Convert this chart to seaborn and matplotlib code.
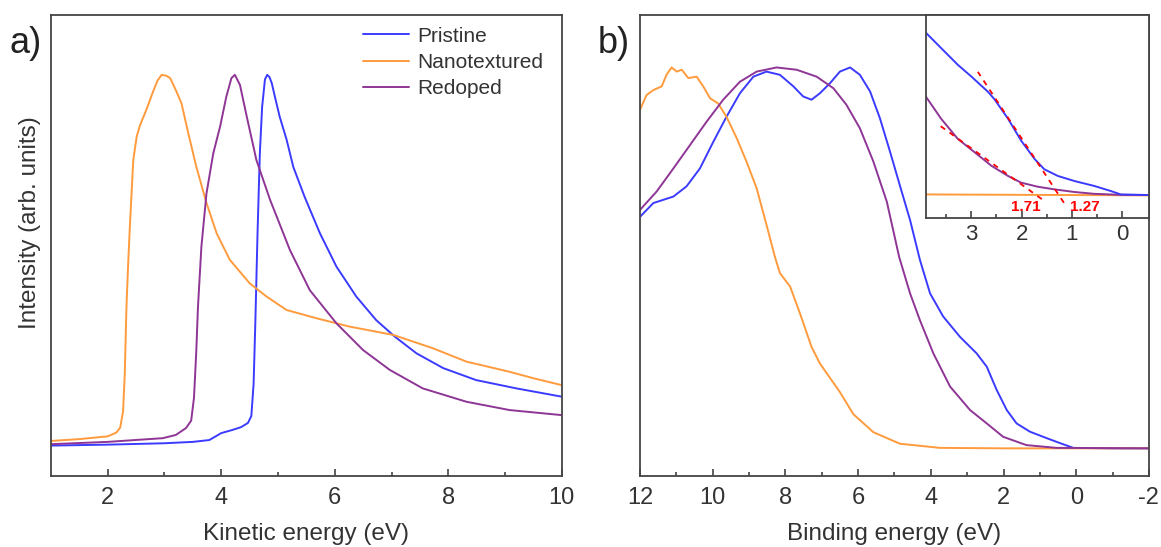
import numpy as np
import pandas as pd
import matplotlib
matplotlib.use('Agg')
import matplotlib.pyplot as plt
import seaborn as sns

# ---- dados (intensidade normalizada 0-1) ----
# a) energia cinetica
ke_pristine = [1.0, 2.0, 3.0, 3.5, 3.79, 4.0, 4.2, 4.35, 4.47, 4.53, 4.57, 4.60, 4.64, 4.68, 4.72, 4.77,
               4.81, 4.85, 4.89, 4.95, 5.03, 5.15, 5.27, 5.47, 5.74, 6.03, 6.38, 6.73, 7.06, 7.44, 7.91,
               8.49, 9.2, 10.0]
i_pristine = [0.066, 0.068, 0.071, 0.074, 0.078, 0.093, 0.100, 0.106, 0.115, 0.13, 0.20, 0.33, 0.53, 0.70, 0.80, 0.86,
              0.87, 0.865, 0.852, 0.82, 0.779, 0.73, 0.67, 0.605, 0.526, 0.454, 0.389, 0.338, 0.302, 0.266, 0.234,
              0.208, 0.19, 0.172]

ke_nano = [1.0, 1.5, 2.0, 2.15, 2.22, 2.27, 2.30, 2.33, 2.36, 2.39, 2.45, 2.51, 2.57, 2.68, 2.80, 2.88,
           2.95, 3.03, 3.10, 3.21, 3.30, 3.42, 3.56, 3.74, 3.92, 4.15, 4.5, 4.8, 5.15, 5.68, 6.26, 7.03,
           7.73, 8.32, 9.08, 9.5, 10.0]
i_nano = [0.076, 0.080, 0.086, 0.094, 0.105, 0.14, 0.22, 0.367, 0.46, 0.541, 0.685, 0.736, 0.761, 0.794, 0.834, 0.858,
          0.87, 0.868, 0.863, 0.834, 0.808, 0.743, 0.671, 0.592, 0.526, 0.469, 0.418, 0.389, 0.36, 0.342, 0.324, 0.306,
          0.277, 0.248, 0.226, 0.212, 0.197]

ke_redoped = [1.0, 2.0, 2.97, 3.2, 3.38, 3.47, 3.52, 3.56, 3.59, 3.65, 3.74, 3.86, 3.98, 4.09, 4.18, 4.24,
              4.33, 4.45, 4.62, 4.86, 5.21, 5.56, 6.03, 6.5, 6.97, 7.55, 8.32, 9.08, 10.0]
i_redoped = [0.069, 0.074, 0.082, 0.089, 0.104, 0.12, 0.17, 0.27, 0.367, 0.497, 0.613, 0.70, 0.758, 0.823, 0.863, 0.87,
             0.848, 0.779, 0.685, 0.599, 0.49, 0.403, 0.331, 0.273, 0.23, 0.19, 0.161, 0.143, 0.132]

# b) energia de ligacao
be_pristine = [12.0, 11.63, 11.08, 10.72, 10.35, 9.98, 9.62, 9.25, 8.88, 8.52, 8.15, 7.78, 7.51, 7.28, 7.05,
               6.77, 6.5, 6.22, 5.95, 5.67, 5.40, 5.12, 4.85, 4.57, 4.30, 4.02, 3.66, 3.20, 2.74, 2.46, 2.19,
               1.91, 1.64, 1.27, 0.81, 0.4, 0.08, -1.0, -2.0]
ib_pristine = [0.562, 0.592, 0.606, 0.628, 0.667, 0.725, 0.779, 0.83, 0.866, 0.877, 0.87, 0.845, 0.823, 0.816, 0.83,
               0.852, 0.877, 0.886, 0.87, 0.834, 0.776, 0.703, 0.63, 0.555, 0.469, 0.396, 0.346, 0.302, 0.266, 0.237,
               0.187, 0.143, 0.114, 0.096, 0.082, 0.07, 0.061, 0.060, 0.060]

be_nano = [12.0, 11.82, 11.63, 11.40, 11.27, 11.13, 10.99, 10.85, 10.67, 10.44, 10.26, 10.07, 9.85, 9.62, 9.34,
           9.07, 8.79, 8.52, 8.29, 8.15, 7.87, 7.60, 7.28, 7.05, 6.5, 6.13, 5.58, 4.85, 3.75, 2.0, -2.0]
ib_nano = [0.794, 0.826, 0.837, 0.845, 0.87, 0.886, 0.877, 0.881, 0.863, 0.866, 0.845, 0.819, 0.808, 0.779, 0.733,
           0.682, 0.624, 0.545, 0.476, 0.44, 0.411, 0.353, 0.28, 0.244, 0.182, 0.134, 0.095, 0.07, 0.061, 0.060, 0.060]

be_redoped = [12.0, 11.54, 11.08, 10.62, 10.17, 9.71, 9.25, 8.79, 8.24, 7.69, 7.14, 6.68, 6.32, 5.95, 5.58,
              5.21, 4.87, 4.57, 4.30, 3.93, 3.47, 2.92, 2.46, 2.01, 1.37, 0.54, -2.0]
ib_redoped = [0.577, 0.617, 0.667, 0.718, 0.768, 0.816, 0.855, 0.877, 0.886, 0.881, 0.866, 0.841, 0.805, 0.754, 0.682,
              0.595, 0.475, 0.396, 0.338, 0.266, 0.194, 0.143, 0.114, 0.085, 0.067, 0.061, 0.060]

# inset (zoom perto do nivel de Fermi)
ins_x_pristine = [3.9, 3.6, 3.27, 3.0, 2.67, 2.54, 2.27, 2.01, 1.74, 1.55, 1.28, 0.95, 0.56, 0.23, 0.03, -0.53]
ins_i_pristine = [0.912, 0.837, 0.755, 0.697, 0.622, 0.585, 0.489, 0.381, 0.29, 0.24, 0.207, 0.182, 0.158, 0.133, 0.116, 0.113]
ins_x_redoped = [3.9, 3.6, 3.27, 2.93, 2.6, 2.27, 2.01, 1.68, 1.35, 0.95, 0.56, 0.03, -0.53]
ins_i_redoped = [0.597, 0.489, 0.39, 0.323, 0.257, 0.207, 0.174, 0.154, 0.141, 0.128, 0.119, 0.114, 0.113]
ins_x_nano = [3.9, 2.0, 0.0, -0.53]
ins_i_nano = [0.116, 0.114, 0.112, 0.111]

# retas de extrapolacao (tracejado vermelho)
fit_x_pristine = [2.87, 1.16]
fit_i_pristine = [0.72, 0.075]
fit_x_redoped = [3.63, 1.60]
fit_i_redoped = [0.456, 0.093]
onset_labels = ['1.71', '1.27']
onset_x = [1.92, 0.75]

cores = {'Pristine': '#3b3bff', 'Nanotextured': '#ff9b3d', 'Redoped': '#8e3596'}

sns.set_style('white')
plt.rcParams['font.family'] = ['Liberation Sans', 'DejaVu Sans']
plt.rcParams['axes.unicode_minus'] = False

fig = plt.figure(figsize=(11.61, 5.47), dpi=100)
ax1 = fig.add_axes([0.0439, 0.1298, 0.440, 0.843])
ax2 = fig.add_axes([0.5512, 0.1298, 0.4384, 0.843])
ax3 = fig.add_axes([0.7976, 0.6015, 0.192, 0.3711])

lw = 1.4
sns.lineplot(x=ke_pristine, y=i_pristine, color=cores['Pristine'], lw=lw, ax=ax1, label='Pristine')
sns.lineplot(x=ke_nano, y=i_nano, color=cores['Nanotextured'], lw=lw, ax=ax1, label='Nanotextured')
sns.lineplot(x=ke_redoped, y=i_redoped, color=cores['Redoped'], lw=lw, ax=ax1, label='Redoped')

sns.lineplot(x=be_pristine, y=ib_pristine, color=cores['Pristine'], lw=lw, ax=ax2)
sns.lineplot(x=be_nano, y=ib_nano, color=cores['Nanotextured'], lw=lw, ax=ax2)
sns.lineplot(x=be_redoped, y=ib_redoped, color=cores['Redoped'], lw=lw, ax=ax2)

sns.lineplot(x=ins_x_nano, y=ins_i_nano, color=cores['Nanotextured'], lw=lw, ax=ax3)
sns.lineplot(x=ins_x_redoped, y=ins_i_redoped, color=cores['Redoped'], lw=lw, ax=ax3)
sns.lineplot(x=ins_x_pristine, y=ins_i_pristine, color=cores['Pristine'], lw=lw, ax=ax3)
sns.lineplot(x=fit_x_pristine, y=fit_i_pristine, color='red', lw=1.3, ls=(0, (3, 3)), ax=ax3)
sns.lineplot(x=fit_x_redoped, y=fit_i_redoped, color='red', lw=1.3, ls=(0, (3, 3)), ax=ax3)
for lab, xx in zip(onset_labels, onset_x):
    ax3.text(xx, 0.055, lab, color='red', fontsize=11, fontweight='bold', ha='center', va='center')

ax1.set_xlim(1, 10)
ax2.set_xlim(12, -2)
ax3.set_xlim(3.9, -0.53)
for ax in (ax1, ax2, ax3):
    ax.set_ylim(0, 1)
    ax.set_yticks([])
    for s in ax.spines.values():
        s.set_color('#444444')
        s.set_linewidth(1.3)
    ax.tick_params(axis='x', which='both', bottom=True, top=False)
    ax.tick_params(axis='x', which='major', direction='in', length=5, width=1.2, color='#444444',
                   labelsize=17, labelcolor='#333333', pad=8)
    ax.tick_params(axis='x', which='minor', direction='in', length=3, width=1.2, color='#444444')
    ax.set_ylabel('')

ax1.set_xticks([2, 4, 6, 8, 10])
ax1.set_xticks([3, 5, 7, 9], minor=True)
ax2.set_xticks([12, 10, 8, 6, 4, 2, 0, -2])
ax2.set_xticks([11, 9, 7, 5, 3, 1, -1], minor=True)
ax3.set_xticks([3, 2, 1, 0])
ax3.set_xticks([3.5, 2.5, 1.5, 0.5], minor=True)
ax3.tick_params(axis='x', labelsize=16, pad=4)

ax1.set_xlabel('Kinetic energy (eV)', fontsize=17.5, color='#333333', labelpad=10)
ax2.set_xlabel('Binding energy (eV)', fontsize=17.5, color='#333333', labelpad=10)
ax1.set_ylabel('Intensity (arb. units)', fontsize=17.5, color='#333333')
ax1.yaxis.set_label_coords(-0.02, 0.55)

leg = ax1.legend(loc='upper right', frameon=False, fontsize=15, handlelength=2.2,
                 bbox_to_anchor=(1.0, 1.015), labelspacing=0.35, handletextpad=0.4)
for t in leg.get_texts():
    t.set_color('#333333')

fig.text(0.008, 0.904, 'a)', fontsize=26, color='#222222')
fig.text(0.515, 0.904, 'b)', fontsize=26, color='#222222')

fig.savefig('out.png', dpi=100)
